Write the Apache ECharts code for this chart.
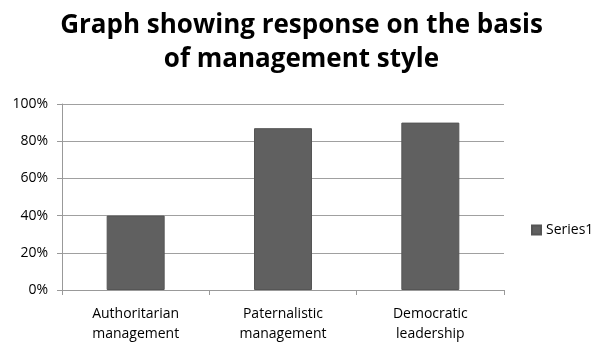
<!DOCTYPE html>
<html>
<head>
<meta charset="utf-8">
<script src="https://cdn.jsdelivr.net/npm/echarts@6/dist/echarts.min.js"></script>
<style>
  html, body { margin: 0; padding: 0; background: #fff; }
  #ch { width: 603px; height: 354px; }
</style>
</head>
<body>
<div id="ch"></div>
<script>
var categories = ['Authoritarian\nmanagement', 'Paternalistic\nmanagement', 'Democratic\nleadership'];
var series1 = [40, 87, 90];
var yTicks = [0, 20, 40, 60, 80, 100];

var chart = echarts.init(document.getElementById('ch'));
var option = {
    animation: false,
    title: {
        text: 'Graph showing response on the basis\nof management style',
        left: 'center',
        top: 4,
        textStyle: {
            fontFamily: 'Open Sans',
            fontWeight: 'bold',
            fontSize: 26,
            lineHeight: 34,
            color: '#000'
        }
    },
    legend: {
        data: ['Series1'],
        orient: 'vertical',
        left: 526,
        top: 218,
        icon: 'rect',
        itemWidth: 9,
        itemHeight: 9,
        itemGap: 4,
        textStyle: { fontFamily: 'Open Sans', fontSize: 14, color: '#000', padding: [0, 0, 0, 0] }
    },
    grid: {
        left: 62,
        top: 104,
        width: 442,
        height: 186
    },
    xAxis: {
        type: 'category',
        data: categories,
        axisLine: { lineStyle: { color: '#999' } },
        axisTick: { show: true, length: 5, lineStyle: { color: '#999' } },
        axisLabel: {
            fontFamily: 'Open Sans',
            fontSize: 14,
            color: '#000',
            lineHeight: 20,
            margin: 14
        }
    },
    yAxis: {
        type: 'value',
        min: yTicks[0],
        max: yTicks[yTicks.length - 1],
        interval: 20,
        axisLine: { show: true, lineStyle: { color: '#999' } },
        axisTick: { show: true, length: 5, lineStyle: { color: '#999' } },
        splitLine: { lineStyle: { color: '#a0a0a0' } },
        axisLabel: {
            formatter: '{value}%',
            fontFamily: 'Open Sans',
            fontSize: 14,
            color: '#000',
            margin: 14
        }
    },
    series: [{
        name: 'Series1',
        type: 'bar',
        data: series1,
        barWidth: 58,
        itemStyle: { color: '#606060', borderColor: '#555', borderWidth: 1 }
    }]
};
chart.setOption(option);
</script>
</body>
</html>
